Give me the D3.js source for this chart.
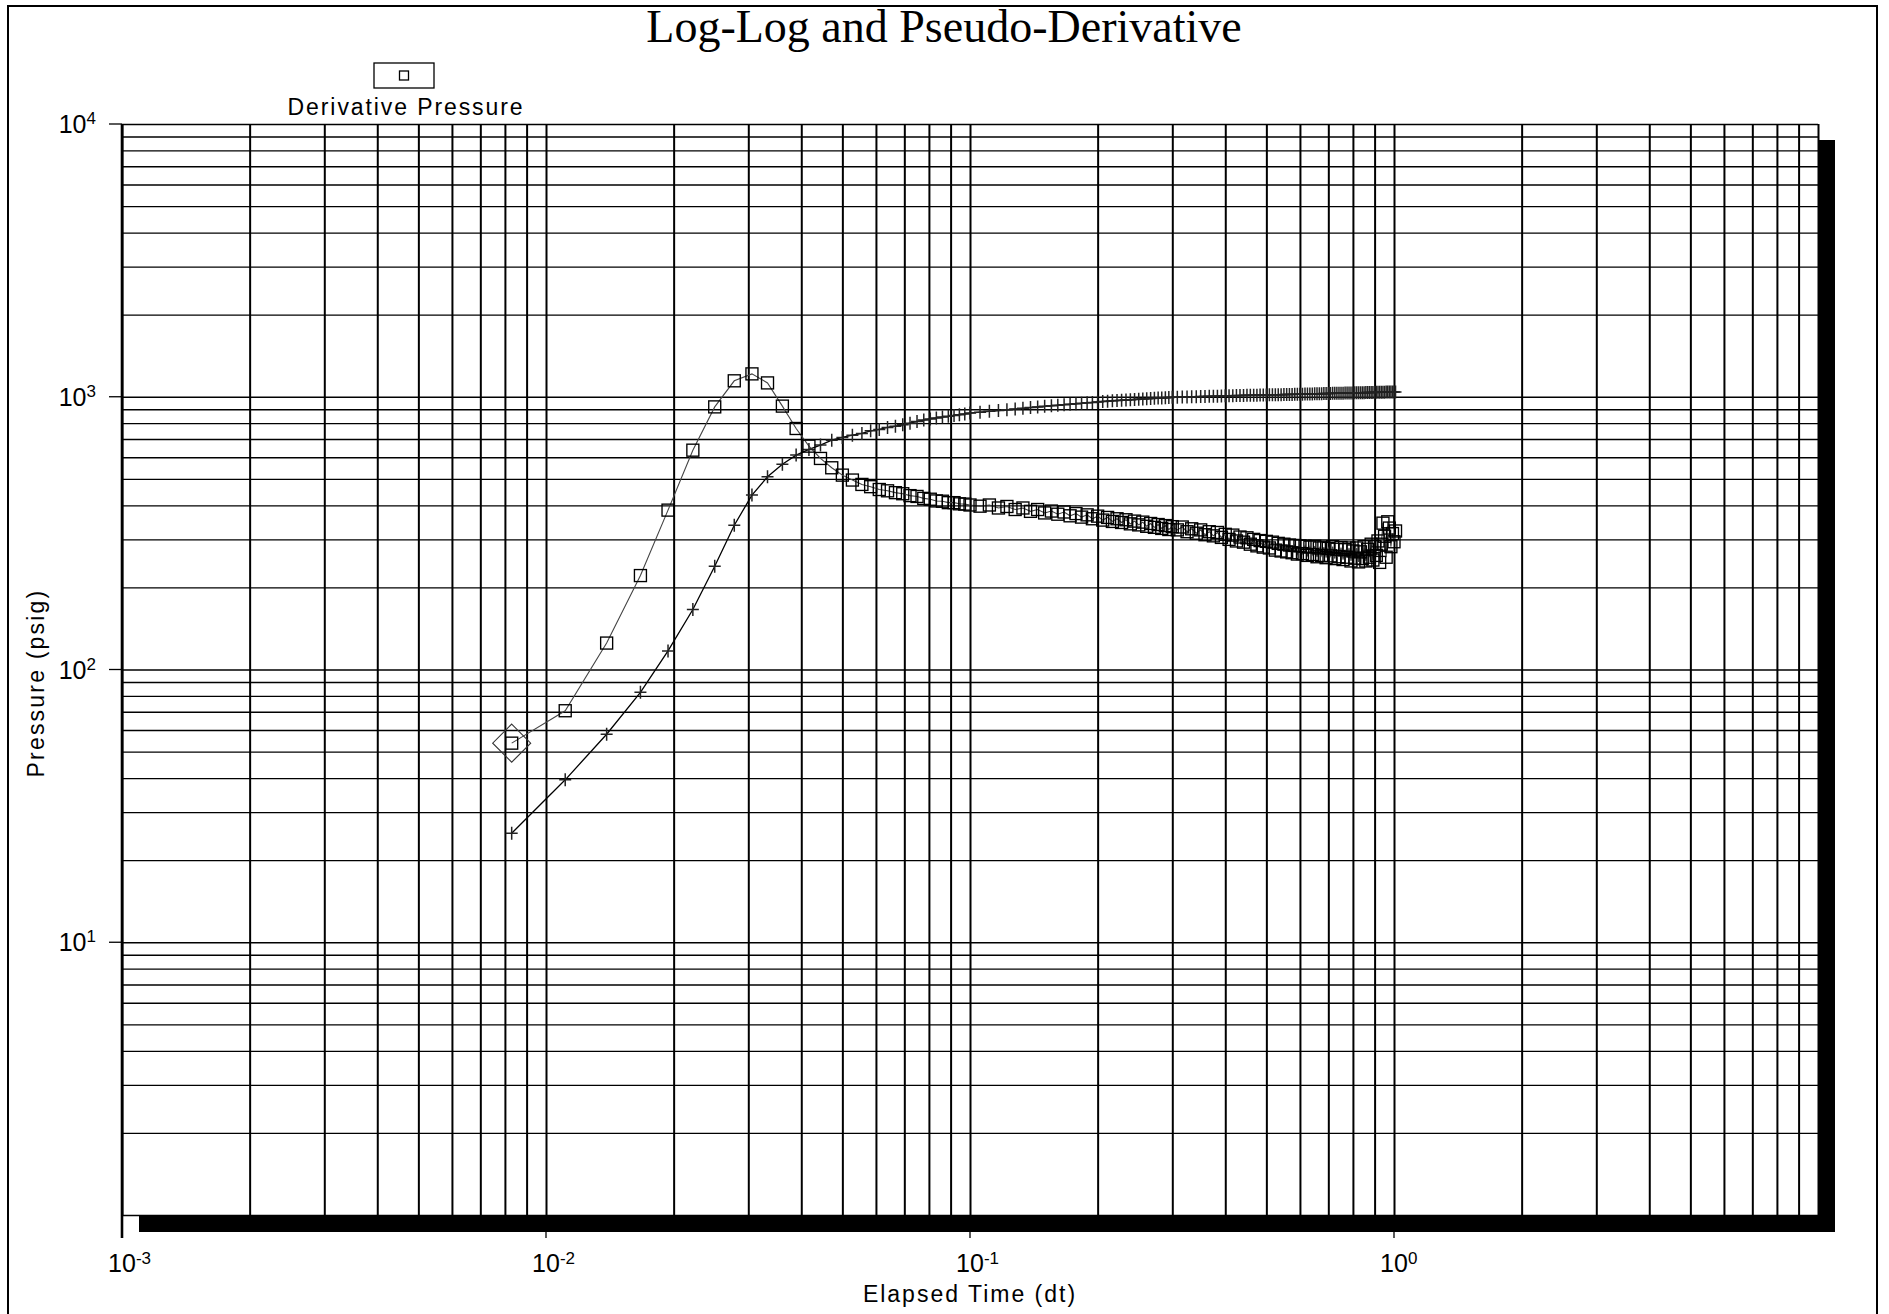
<!DOCTYPE html>
<html>
<head>
<meta charset="utf-8">
<script src="https://cdn.jsdelivr.net/npm/d3@7"></script>
<style>
  body { margin: 0; background: #fff; }
  text { font-family: "Liberation Sans", Arial, sans-serif; fill: #000; }
</style>
</head>
<body>
<svg id="chart-container" width="1889" height="1314"></svg>
<script>
// Elapsed time (hours), shared by both series
const times = [
  0.0083, 0.0111, 0.0139, 0.0167, 0.0194, 0.0222, 0.0250, 0.0278, 0.0306, 0.0333, 0.0361,
  0.0389, 0.0417, 0.0444, 0.0472, 0.0500, 0.0528, 0.0556, 0.0583, 0.0611, 0.0639, 0.0667,
  0.0694, 0.0722, 0.0750, 0.0778, 0.0806, 0.0833, 0.0861, 0.0889, 0.0917, 0.0944, 0.0972, 0.1000,
  0.1056, 0.1111, 0.1167, 0.1222, 0.1278, 0.1333, 0.1389, 0.1444, 0.1500, 0.1556, 0.1611, 0.1667,
  0.1722, 0.1778, 0.1833, 0.1889, 0.1944, 0.2000, 0.2056, 0.2111, 0.2167, 0.2222, 0.2278, 0.2333,
  0.2389, 0.2444, 0.2500, 0.2556, 0.2611, 0.2667, 0.2722, 0.2778, 0.2833, 0.2889, 0.2944, 0.3000,
  0.3083, 0.3167, 0.3250, 0.3333, 0.3417, 0.3500, 0.3583, 0.3667, 0.3750, 0.3833, 0.3917, 0.4000,
  0.4083, 0.4167, 0.4250, 0.4333, 0.4417, 0.4500, 0.4583, 0.4667, 0.4750, 0.4833, 0.4917, 0.5000,
  0.5083, 0.5167, 0.5250, 0.5333, 0.5417, 0.5500, 0.5583, 0.5667, 0.5750, 0.5833, 0.5917, 0.6000,
  0.6083, 0.6167, 0.6250, 0.6333, 0.6417, 0.6500, 0.6583, 0.6667, 0.6750, 0.6833, 0.6917, 0.7000,
  0.7083, 0.7167, 0.7250, 0.7333, 0.7417, 0.7500, 0.7583, 0.7667, 0.7750, 0.7833, 0.7917, 0.8000,
  0.8083, 0.8167, 0.8250, 0.8333, 0.8417, 0.8500, 0.8583, 0.8667, 0.8750, 0.8833, 0.8917, 0.9000,
  0.9083, 0.9167, 0.9250, 0.9333, 0.9417, 0.9500, 0.9583, 0.9667, 0.9750, 0.9833, 0.9917, 1.0000,
  1.0083
];

// Pressure (psig), "+" markers
const pressure = [
  25.1, 39.4, 57.9, 82.5, 117, 166, 239, 338, 436, 509, 566,
  611, 641, 665, 693, 709, 723, 734, 750, 759, 772, 780,
  789, 800, 812, 821, 829, 836, 842, 848, 853, 859, 865, 871,
  878, 884, 890, 896, 901, 907, 913, 917, 922, 926, 931, 935,
  939, 942, 946, 950, 953, 957, 960, 963, 966, 968, 971, 973,
  975, 977, 980, 982, 984, 985, 987, 989, 990, 992, 993, 995,
  996, 997, 998, 999, 1000, 1002, 1003, 1004, 1005, 1005, 1006, 1008,
  1008, 1009, 1010, 1010, 1011, 1012, 1012, 1013, 1013, 1014, 1014, 1015,
  1016, 1016, 1017, 1018, 1018, 1019, 1019, 1020, 1020, 1021, 1021, 1022,
  1022, 1023, 1023, 1024, 1024, 1025, 1025, 1026, 1026, 1027, 1027, 1028,
  1028, 1029, 1029, 1030, 1030, 1031, 1031, 1032, 1032, 1032, 1033, 1033,
  1034, 1034, 1034, 1035, 1035, 1035, 1036, 1036, 1036, 1037, 1037, 1037,
  1038, 1038, 1038, 1039, 1039, 1039, 1040, 1040, 1040, 1041, 1041, 1041,
  1042
];

// Derivative pressure (psig), square markers
const derivative = [
  53.7, 70.6, 125, 221, 384, 637, 918, 1144, 1213, 1124, 924,
  765, 659, 594, 549, 516, 495, 477, 468, 457, 452, 445,
  441, 434, 431, 424, 421, 415, 414, 409, 409, 405, 404, 401,
  397, 401, 391, 396, 386, 391, 380, 386, 375, 381, 371, 378,
  366, 373, 362, 369, 357, 365, 353, 361, 349, 357, 346, 354,
  342, 350, 339, 347, 335, 343, 332, 340, 329, 337, 326, 334,
  325, 333, 320, 328, 316, 325, 312, 320, 309, 318, 305, 313,
  300, 311, 296, 306, 293, 304, 288, 300, 284, 297, 281, 295,
  279, 293, 274, 290, 272, 288, 270, 286, 268, 285, 265, 284,
  266, 283, 262, 281, 264, 283, 259, 279, 262, 281, 257, 278,
  261, 282, 255, 276, 259, 280, 253, 275, 258, 279, 250, 272,
  256, 279, 248, 270, 255, 282, 250, 276, 258, 288, 252, 282,
  262, 296, 247, 288, 344, 308, 258, 348, 330, 282, 315, 294,
  322
];

const xTickExponents = [-3, -2, -1, 0];
const yTickExponents = [4, 3, 2, 1];
const chartTitle = "Log-Log and Pseudo-Derivative";
const legendLabel = "Derivative Pressure";
const xTitle = "Elapsed Time (dt)";
const yTitle = "Pressure (psig)";

const svg = d3.select("#chart-container");
const margin = { top: 124, right: 71, bottom: 99, left: 122 };
const width = svg.attr("width") - margin.left - margin.right;
const height = svg.attr("height") - margin.top - margin.bottom;

// page background and outer frame
svg.append("rect").attr("width", 1889).attr("height", 1314).attr("fill", "#fff");
svg.append("rect")
    .attr("x", 8).attr("y", 6)
    .attr("width", 1869).attr("height", 1400)
    .attr("fill", "none").attr("stroke", "#000").attr("stroke-width", 2);

// title
svg.append("text")
    .attr("x", 944).attr("y", 42)
    .attr("text-anchor", "middle")
    .style("font-family", "'Liberation Serif', 'Times New Roman', serif")
    .style("font-size", "46px")
    .text(chartTitle);

// legend: boxed square with the label below
const legend = svg.append("g").attr("transform", "translate(374, 63)");
legend.append("rect")
    .attr("width", 60).attr("height", 25)
    .attr("fill", "none").attr("stroke", "#000").attr("stroke-width", 1.3);
legend.append("rect")
    .attr("x", 25.5).attr("y", 8).attr("width", 9).attr("height", 9)
    .attr("fill", "none").attr("stroke", "#000").attr("stroke-width", 1.3);
legend.append("text")
    .attr("x", 32).attr("y", 52)
    .attr("text-anchor", "middle")
    .style("font-size", "23px").style("letter-spacing", "1.9px")
    .text(legendLabel);

const chartGroup = svg.append("g").attr("transform", `translate(${margin.left}, ${margin.top})`);

const xScale = d3.scaleLog().domain([1e-3, 10]).range([0, width]);
const yScale = d3.scaleLog().domain([1, 1e4]).range([height, 0]);

// drop shadow behind the plot area, then the plot area itself
chartGroup.append("rect")
    .attr("x", 17).attr("y", 16)
    .attr("width", width).attr("height", height + 1)
    .attr("fill", "#000");
chartGroup.append("rect")
    .attr("width", width).attr("height", height)
    .attr("fill", "#fff");

// vertical grid (1..9 per decade)
const xGrid = chartGroup.append("g")
    .attr("transform", `translate(0, ${height})`)
    .call(d3.axisBottom(xScale).tickSize(-height).tickFormat(""));
xGrid.select(".domain").remove();
xGrid.selectAll("line").attr("stroke", "#000").attr("stroke-width", 2);

// horizontal grid
const yGrid = chartGroup.append("g")
    .call(d3.axisLeft(yScale).tickSize(-width).tickFormat(""));
yGrid.select(".domain").remove();
yGrid.selectAll("line").attr("stroke", "#000").attr("stroke-width", 1.3);

// left axis line, running down past the shadow
chartGroup.append("line")
    .attr("x1", 0).attr("x2", 0)
    .attr("y1", 0).attr("y2", height + 23)
    .attr("stroke", "#000").attr("stroke-width", 2.6);

// decade ticks and labels on y
yTickExponents.forEach(e => {
    const y = yScale(Math.pow(10, e));
    chartGroup.append("line")
        .attr("x1", -13).attr("x2", 0).attr("y1", y).attr("y2", y)
        .attr("stroke", "#000").attr("stroke-width", 1.3);
    const t = chartGroup.append("text")
        .attr("x", -26).attr("y", y + 9)
        .attr("text-anchor", "end")
        .style("font-size", "25px");
    t.append("tspan").text("10");
    t.append("tspan").attr("dy", -9).style("font-size", "17px").text(e);
});

// decade ticks and labels on x
xTickExponents.forEach(e => {
    const x = xScale(Math.pow(10, e));
    chartGroup.append("line")
        .attr("x1", x).attr("x2", x).attr("y1", height).attr("y2", height + 23)
        .attr("stroke", "#000").attr("stroke-width", 1.3);
    const t = chartGroup.append("text")
        .attr("x", x - 13.9).attr("y", height + 57)
        .attr("text-anchor", "start")
        .style("font-size", "25px");
    t.append("tspan").text("10");
    t.append("tspan").attr("dy", -8).style("font-size", "17px").text(e);
});

// axis titles
svg.append("text")
    .attr("x", margin.left + width / 2).attr("y", 1302)
    .attr("text-anchor", "middle")
    .style("font-size", "23px").style("letter-spacing", "2px")
    .text(xTitle);
svg.append("text")
    .attr("transform", "translate(44, 683) rotate(-90)")
    .attr("text-anchor", "middle")
    .style("font-size", "23px").style("letter-spacing", "2.2px")
    .text(yTitle);

// series
const pressureData = times.map((t, i) => ({ t: t, v: pressure[i] }));
const derivativeData = times.map((t, i) => ({ t: t, v: derivative[i] }));

const line = d3.line()
    .x(d => xScale(d.t))
    .y(d => yScale(d.v));

chartGroup.append("path")
    .datum(pressureData)
    .attr("fill", "none").attr("stroke", "#000").attr("stroke-width", 1.3)
    .attr("d", line);

chartGroup.append("path")
    .datum(derivativeData)
    .attr("fill", "none").attr("stroke", "#444").attr("stroke-width", 1.1)
    .attr("d", line);

// "+" markers for pressure
chartGroup.append("g").selectAll("path")
    .data(pressureData)
    .enter()
    .append("path")
        .attr("transform", d => `translate(${xScale(d.t)}, ${yScale(d.v)})`)
        .attr("d", "M-6,0H6M0,-6.5V6.5")
        .attr("stroke", "#222").attr("stroke-width", 1.5)
        .attr("fill", "none");

// square markers for derivative
chartGroup.append("g").selectAll("rect")
    .data(derivativeData)
    .enter()
    .append("rect")
        .attr("x", d => xScale(d.t) - 6)
        .attr("y", d => yScale(d.v) - 6)
        .attr("width", 12).attr("height", 12)
        .attr("fill", "none").attr("stroke", "#000").attr("stroke-width", 1.35);

// diamond highlighting the first derivative point
const first = derivativeData[0];
chartGroup.append("path")
    .attr("transform", `translate(${xScale(first.t)}, ${yScale(first.v)})`)
    .attr("d", "M0,-19L19,0L0,19L-19,0Z")
    .attr("fill", "none").attr("stroke", "#333").attr("stroke-width", 1.1);
</script>
</body>
</html>
